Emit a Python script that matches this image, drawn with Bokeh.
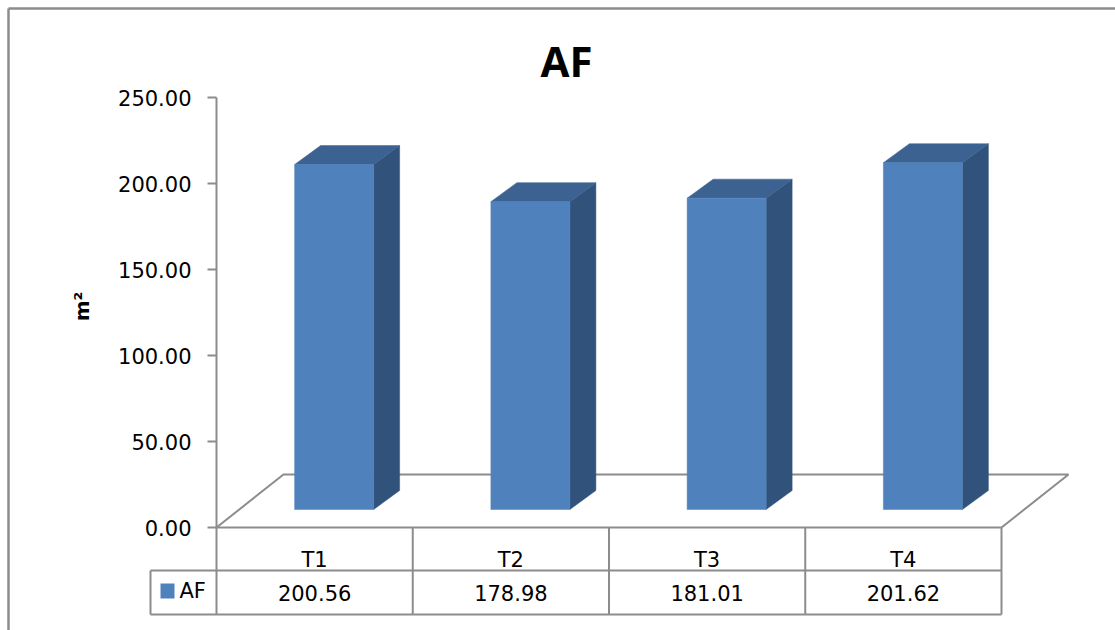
import math

from bokeh.core.properties import value
from bokeh.embed import file_html
from bokeh.models import (FixedTicker, Label, LinearAxis,
                          NumeralTickFormatter, Range1d)
from bokeh.plotting import figure
from bokeh.resources import INLINE

# ---- data -------------------------------------------------------------
categories = ["T1", "T2", "T3", "T4"]
af_values = [200.56, 178.98, 181.01, 201.62]
y_ticks = [0, 50, 100, 150, 200, 250]
series_name = "AF"
chart_title = "AF"
y_title = "m²"

# ---- layout (pixels) ----------------------------------------------------
W, H = 1115, 630
AXIS_PX = 216      # pixel column of the value axis
ZERO_PX = 527      # pixel row of value 0
COL_PX = 196.25    # width of one category slot
VAL_PX = 1.72      # pixels per value unit
ROW1_PX = 570      # bottom of the category row of the table
ROW2_PX = 614      # bottom of the value row of the table
LABEL_COL_PX = 150 # left edge of the series-name cell

GRAY = "#8c8c8c"
FRONT = "#4f81bd"
TOP = "#3c6291"
SIDE = "#31537b"
FONT = "DejaVu Sans"


def ux(px):
    return (px - AXIS_PX) / COL_PX


def uy(py):
    return (ZERO_PX - py) / VAL_PX


# perspective offsets, expressed in data units
FLOOR_DX, FLOOR_DY = 67 / COL_PX, 53 / VAL_PX
BAR_W = 79 / COL_PX
BAR_OFF_X, BAR_OFF_Y = 19.5 / COL_PX, 18 / VAL_PX
BAR_DX, BAR_DY = 26 / COL_PX, 19 / VAL_PX

p = figure(
    width=W, height=H,
    x_range=Range1d(ux(0), ux(W)), y_range=Range1d(uy(H), uy(0)),
    x_axis_type=None, y_axis_type=None,
    output_backend="svg", toolbar_location=None,
    min_border=0, outline_line_color=None,
    background_fill_color="white", border_fill_color="white",
)
p.xgrid.visible = False
p.ygrid.visible = False

n = len(categories)

# outer chart border (left and top edges)
p.segment(x0=[ux(8), ux(8)], y0=[uy(8), uy(8)],
          x1=[ux(8), ux(W + 10)], y1=[uy(H + 10), uy(8)],
          line_color=GRAY, line_width=2.5)

# floor of the 3-D plot area
p.multi_line(
    xs=[[0, FLOOR_DX, n + FLOOR_DX, n]],
    ys=[[0, FLOOR_DY, FLOOR_DY, 0]],
    line_color=GRAY, line_width=2,
)

# columns: front face, top face and right side face
left, right, bottom, top = [], [], [], []
top_xs, top_ys, side_xs, side_ys = [], [], [], []
for i, v in enumerate(af_values):
    c = i + 0.5 + BAR_OFF_X
    L, R = c - BAR_W / 2, c + BAR_W / 2
    B, T = BAR_OFF_Y, BAR_OFF_Y + v
    left.append(L); right.append(R); bottom.append(B); top.append(T)
    top_xs.append([L, L + BAR_DX, R + BAR_DX, R])
    top_ys.append([T, T + BAR_DY, T + BAR_DY, T])
    side_xs.append([R, R + BAR_DX, R + BAR_DX, R])
    side_ys.append([B, B + BAR_DY, T + BAR_DY, T])

p.patches(xs=side_xs, ys=side_ys, fill_color=SIDE, line_color=SIDE, line_width=0.5)
p.patches(xs=top_xs, ys=top_ys, fill_color=TOP, line_color=TOP, line_width=0.5)
p.quad(left=left, right=right, bottom=bottom, top=top,
       fill_color=FRONT, line_color=FRONT, line_width=0.5)

# data table under the plot
r1, r2, lc = uy(ROW1_PX), uy(ROW2_PX), ux(LABEL_COL_PX)
hx0 = [0, lc, lc]
hy0 = [0, r1, r2]
hx1 = [n, n, n]
p.segment(x0=hx0, y0=hy0, x1=hx1, y1=hy0, line_color=GRAY, line_width=2)
vx = list(range(n + 1)) + [lc]
vy0 = [0] * (n + 1) + [r1]
p.segment(x0=vx, y0=vy0, x1=vx, y1=[r2] * (n + 2), line_color=GRAY, line_width=2)

centers = [i + 0.5 for i in range(n)]
p.text(x=centers, y=[uy(559)] * n, text=categories,
       text_align="center", text_baseline="middle",
       text_font=value(FONT), text_font_size="21px", text_color="black")
p.text(x=centers, y=[uy(592.5)] * n, text=[f"{v:.2f}" for v in af_values],
       text_align="center", text_baseline="middle",
       text_font=value(FONT), text_font_size="21px", text_color="black")

# series key in the table
p.quad(left=[ux(160)], right=[ux(174)], top=[uy(583)], bottom=[uy(598)],
       fill_color=FRONT, line_color=None)
p.text(x=[ux(179)], y=[uy(590)], text=[series_name],
       text_align="left", text_baseline="middle",
       text_font=value(FONT), text_font_size="21px", text_color="black")

# value axis
y_axis = LinearAxis(
    fixed_location=0, bounds=(0, 250),
    ticker=FixedTicker(ticks=y_ticks),
    formatter=NumeralTickFormatter(format="0.00"),
    axis_line_color=GRAY, axis_line_width=2,
    major_tick_line_color=GRAY, major_tick_line_width=2,
    major_tick_in=0, major_tick_out=9,
    minor_tick_in=0, minor_tick_out=0,
    major_label_standoff=16,
    major_label_text_font=FONT, major_label_text_font_size="21px",
    major_label_text_color="black",
)
p.add_layout(y_axis, "left")

# titles
p.add_layout(Label(x=ux(566), y=uy(59.5), text=chart_title,
                   text_align="center", text_baseline="middle",
                   text_font="Open Sans", text_font_style="bold",
                   text_font_size="42px", text_color="black"))
p.add_layout(Label(x=ux(81), y=uy(306), text=y_title, angle=math.pi / 2,
                   text_align="center", text_baseline="middle",
                   text_font=FONT, text_font_style="bold",
                   text_font_size="20px", text_color="black"))

open("out.html", "w").write(file_html(p, INLINE))
